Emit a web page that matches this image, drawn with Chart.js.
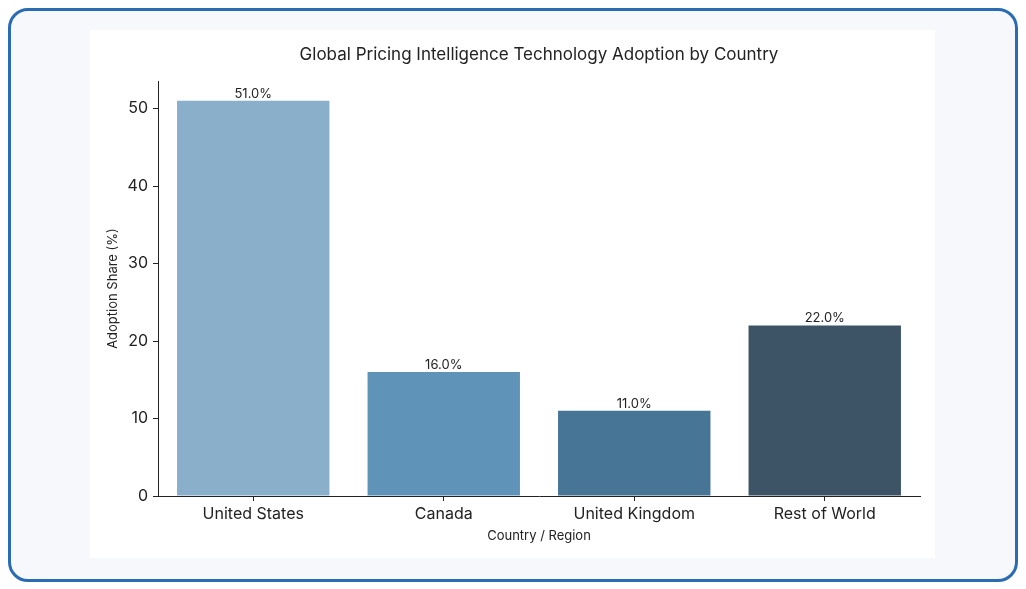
<!DOCTYPE html>
<html>
<head>
<meta charset="utf-8">
<script src="https://cdn.jsdelivr.net/npm/chart.js@4"></script>
<style>
  html, body { margin: 0; padding: 0; width: 1026px; height: 589px; background: #ffffff; overflow: hidden; }
  #frame { position: absolute; left: 8px; top: 8px; width: 1004px; height: 568px; border: 3.5px solid #2a6cb3; border-radius: 20px; background: #f6f8fc; }
  #panel { position: absolute; left: 90px; top: 30px; width: 845px; height: 528px; background: #ffffff; }
</style>
</head>
<body>
<div id="frame"></div>
<div id="panel"><canvas id="c" width="845" height="528"></canvas></div>
<script>
const categories = ["United States", "Canada", "United Kingdom", "Rest of World"];
const adoptionShare = [51.0, 16.0, 11.0, 22.0];
const barColors = ["#8aafca", "#5f93b8", "#467596", "#3d5366"];
const yTicks = [0, 10, 20, 30, 40, 50];
const chartTitle = "Global Pricing Intelligence Technology Adoption by Country";

const FONT = "Inter, 'Open Sans', sans-serif";

const valueLabels = {
  id: 'valueLabels',
  afterDatasetsDraw(chart) {
    const ctx = chart.ctx;
    const meta = chart.getDatasetMeta(0);
    ctx.save();
    ctx.font = "13px " + FONT;
    ctx.fillStyle = "#222";
    ctx.textAlign = "center";
    ctx.textBaseline = "bottom";
    meta.data.forEach((bar, i) => {
      ctx.fillText(adoptionShare[i].toFixed(1) + "%", bar.x, bar.y - 0.5);
    });
    ctx.restore();
  }
};

const centeredTitle = {
  id: 'centeredTitle',
  afterDraw(chart) {
    const ctx = chart.ctx;
    const area = chart.chartArea;
    ctx.save();
    ctx.font = "17px " + FONT;
    ctx.fillStyle = "#222";
    ctx.textAlign = "center";
    ctx.textBaseline = "middle";
    ctx.fillText(chartTitle, (area.left + area.right) / 2, 24.5);
    ctx.restore();
  }
};

new Chart(document.getElementById('c'), {
  type: 'bar',
  data: {
    labels: categories,
    datasets: [{
      data: adoptionShare,
      backgroundColor: barColors,
      borderWidth: 0,
      categoryPercentage: 0.8,
      barPercentage: 1.0
    }]
  },
  plugins: [valueLabels, centeredTitle],
  options: {
    responsive: false,
    animation: false,
    devicePixelRatio: 1,
    layout: { padding: { left: 0, right: 15, top: 51, bottom: 0 } },
    plugins: {
      legend: { display: false },
      tooltip: { enabled: false },
      title: { display: false }
    },
    scales: {
      x: {
        offset: true,
        grid: { display: true, offset: false, drawOnChartArea: false, drawTicks: true, tickLength: 5, color: "#222", lineWidth: 1 },
        border: { display: true, color: "#222", width: 1 },
        ticks: { color: "#222", font: { family: FONT, size: 16 }, padding: 4, maxRotation: 0 },
        title: { display: true, text: "Country / Region", color: "#222", font: { family: FONT, size: 13 }, padding: { top: 0, bottom: 14 } },
        afterFit(scale) { scale.height = 62; }
      },
      y: {
        min: 0,
        max: 53.55,
        grid: { display: true, drawOnChartArea: false, drawTicks: true, tickLength: 5, color: "#222", lineWidth: 1 },
        border: { display: true, color: "#222", width: 1 },
        ticks: { color: "#222", font: { family: FONT, size: 16 }, padding: 5, stepSize: 10 },
        afterBuildTicks(scale) { scale.ticks = yTicks.map(v => ({ value: v })); },
        title: { display: true, text: "Adoption Share (%)", color: "#222", font: { family: FONT, size: 13 }, padding: { top: 15, bottom: 0 } },
        afterFit(scale) { scale.width = 68; }
      }
    }
  }
});
</script>
</body>
</html>
